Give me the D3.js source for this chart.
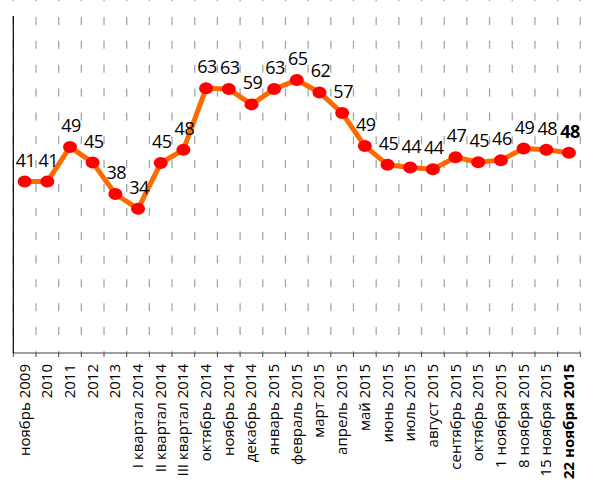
<!DOCTYPE html>
<html lang="ru">
<head>
<meta charset="UTF-8">
<title>Индекс</title>
<script src="https://d3js.org/d3.v7.min.js"></script>
<style>
  body, html { margin: 0; padding: 0; background: #fff; overflow: hidden; }
  svg { display: block; }
  .grid line { stroke: #a6a6a6; stroke-width: 1.3; stroke-dasharray: 8, 15.85; }
  .val { font-family: "Open Sans", sans-serif; font-size: 18px; fill: #000; text-anchor: middle; letter-spacing: -0.5px; }
  .xlab { font-family: "Open Sans", sans-serif; font-size: 15px; fill: #000; text-anchor: end; }
</style>
</head>
<body>
<svg></svg>
<script>
  const categories = [
    "ноябрь 2009", "2010", "2011", "2012", "2013",
    "I квартал 2014", "II квартал 2014", "III квартал 2014",
    "октябрь 2014", "ноябрь 2014", "декабрь 2014",
    "январь 2015", "февраль 2015", "март 2015", "апрель 2015",
    "май 2015", "июнь 2015", "июль 2015", "август 2015",
    "сентябрь 2015", "октябрь 2015",
    "1 ноября 2015", "8 ноября 2015", "15 ноября 2015", "22 ноября 2015"
  ];
  const values = [
    40.6, 40.6, 49.0, 45.2, 37.6,
    34.0, 45.1, 48.3,
    63.2, 63.0, 59.3,
    63.0, 65.2, 62.2, 57.2,
    49.2, 44.7, 44.0, 43.6,
    46.5, 45.3,
    45.8, 48.6, 48.3, 47.6
  ];

  const width = 589, height = 484;
  const plotLeft = 13.3, plotRight = 580.3, plotTop = 16, plotBottom = 353;

  const svg = d3.select("svg").attr("width", width).attr("height", height);

  const x = d3.scaleBand().domain(categories).range([plotLeft, plotRight]);
  const y = d3.scaleLinear().domain([-0.9, 80.7]).range([plotBottom, plotTop]);

  // vertical dashed grid on category boundaries
  const bounds = categories.map(c => x(c)).concat([plotRight]);
  svg.append("g").attr("class", "grid")
    .selectAll("line")
    .data(bounds)
    .enter().append("line")
    .attr("x1", d => d).attr("x2", d => d)
    .attr("y1", plotTop + 1 - 23.85).attr("y2", plotBottom);

  // x axis with ticks between categories
  const xAxis = svg.append("g");
  xAxis.append("line")
    .attr("x1", plotLeft).attr("x2", plotRight)
    .attr("y1", plotBottom).attr("y2", plotBottom)
    .attr("stroke", "#404040").attr("stroke-width", 1);
  xAxis.selectAll(".tick")
    .data(bounds)
    .enter().append("line")
    .attr("x1", d => d).attr("x2", d => d)
    .attr("y1", plotBottom).attr("y2", plotBottom + 4)
    .attr("stroke", "#404040");

  // y axis line
  svg.append("line")
    .attr("x1", plotLeft).attr("x2", plotLeft)
    .attr("y1", plotTop).attr("y2", plotBottom)
    .attr("stroke", "#000").attr("stroke-width", 1.2);

  // category labels, rotated
  const last = categories.length - 1;
  svg.append("g").selectAll("text")
    .data(categories)
    .enter().append("text")
    .attr("class", "xlab")
    .attr("transform", d => `translate(${x(d) + x.bandwidth() / 2 + 5},${plotBottom + 11}) rotate(-90)`)
    .style("font-weight", (d, i) => i === last ? "bold" : null)
    .text(d => d);

  const cx = d => x(d.c) + x.bandwidth() / 2;
  const pts = categories.map((c, i) => ({c: c, v: values[i], i: i}));

  const line = d3.line().x(cx).y(d => y(d.v));
  svg.append("path")
    .datum(pts)
    .attr("d", line)
    .attr("fill", "none")
    .attr("stroke", "#ff6a00")
    .attr("stroke-width", 5)
    .attr("stroke-linejoin", "round");

  svg.append("g").selectAll("ellipse")
    .data(pts)
    .enter().append("ellipse")
    .attr("cx", cx)
    .attr("cy", d => y(d.v))
    .attr("rx", 7).attr("ry", 6)
    .attr("fill", "#ff0000");

  svg.append("g").selectAll("text")
    .data(pts)
    .enter().append("text")
    .attr("class", "val")
    .attr("x", d => cx(d) + 1)
    .attr("y", d => y(d.v) - 15)
    .style("font-weight", d => d.i === last ? "bold" : null)
    .text(d => Math.round(d.v));
</script>
</body>
</html>
